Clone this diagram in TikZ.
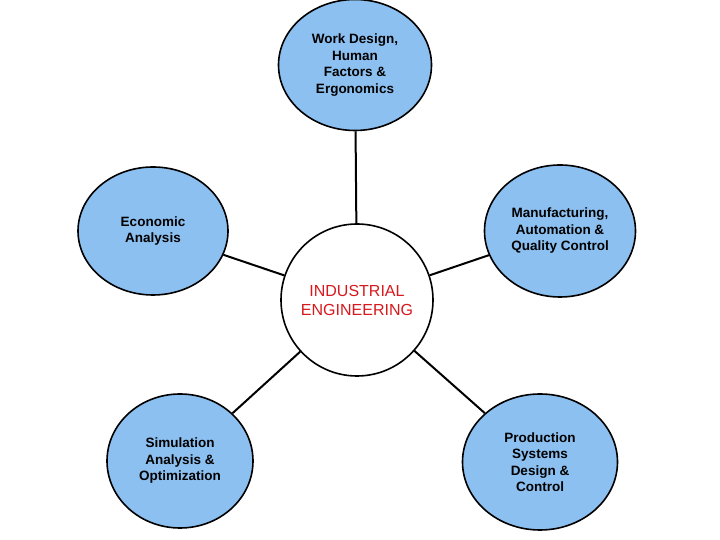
\documentclass[tikz,border=0pt]{standalone}
\usepackage{fontspec}
\setsansfont{Liberation Sans}
\usetikzlibrary{shapes.geometric}
\definecolor{topicblue}{RGB}{140,192,240}
\definecolor{iered}{RGB}{215,25,30}
\begin{document}
\begin{tikzpicture}[x=1pt,y=1pt,
    topic/.style={ellipse, draw=black, line width=1.6pt, fill=topicblue,
        font=\sffamily\bfseries\fontsize{13.5}{16.5}\selectfont, align=center},
    spoke/.style={line width=2pt}]
    \useasboundingbox (0,0) rectangle (720,540);
    % Centre
    \node[circle, draw=black, line width=1.6pt, fill=white, minimum size=152pt,
        text=iered, font=\sffamily\fontsize{16}{19}\selectfont, align=center] (ie) at (357,240)
        {INDUSTRIAL\\ENGINEERING};
    % Topics
    \node[topic, minimum width=153pt, minimum height=131pt] (work) at (355,475)
        {Work Design,\\Human\\Factors \&\\Ergonomics};
    \node[topic, minimum width=150pt, minimum height=128pt] (econ) at (153,309)
        {Economic\\Analysis};
    \node[topic, minimum width=151pt, minimum height=132pt] (manu) at (560,309)
        {Manufacturing,\\Automation \&\\Quality Control};
    \node[topic, minimum width=146pt, minimum height=134pt] (sim) at (180,79)
        {Simulation\\Analysis \&\\Optimization};
    \node[topic, minimum width=155pt, minimum height=136pt] (prod) at (540,78)
        {Production\\Systems\\Design \&\\Control};
    % Spokes
    \foreach \t in {work,econ,manu,sim,prod}
        \draw[spoke] (ie) -- (\t);
\end{tikzpicture}
\end{document}
